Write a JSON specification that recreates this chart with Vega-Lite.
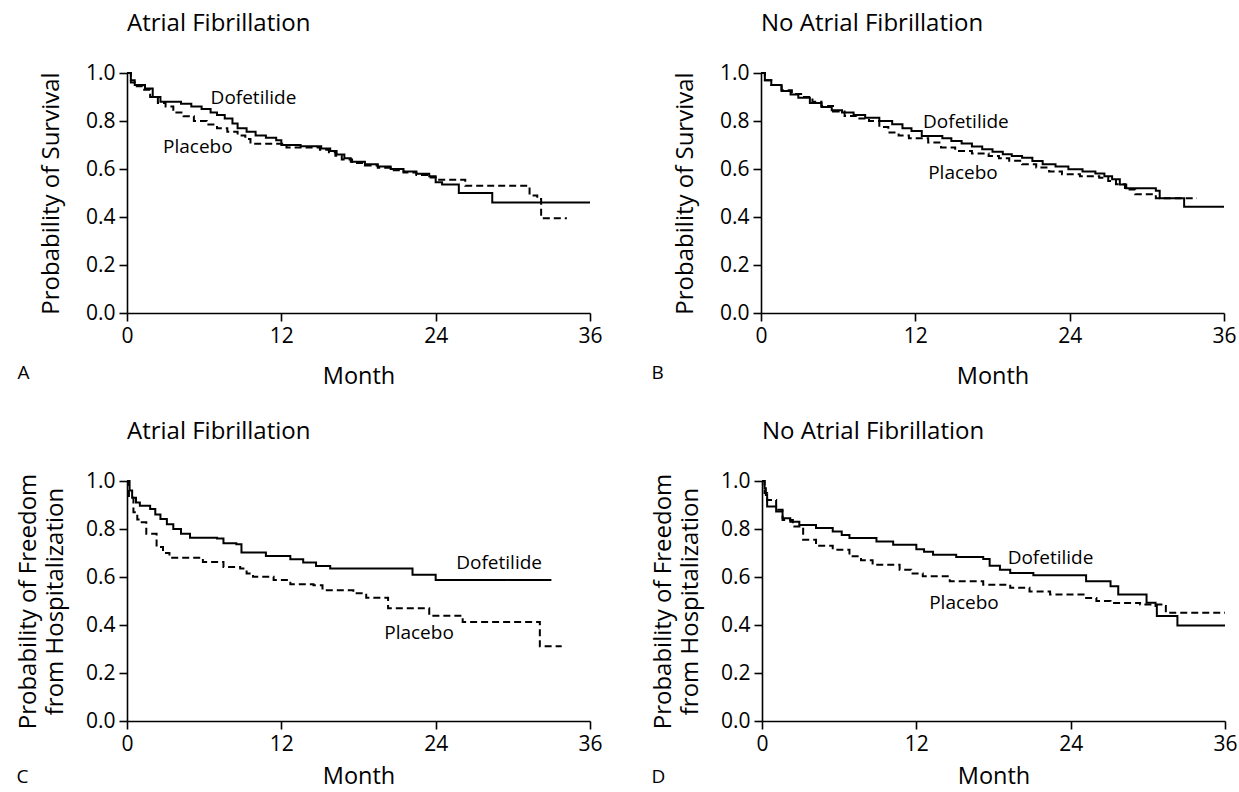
{
  "$schema": "https://vega.github.io/schema/vega-lite/v6.json",
  "padding": {"left": 16, "top": 12, "right": 0, "bottom": 0},
  "background": "white",
  "config": {
    "font": "Open Sans",
    "view": {"stroke": null},
    "axis": {"domainColor": "black", "domainWidth": 1.6, "tickColor": "black", "tickWidth": 1.6, "tickSize": 8, "labelFontSize": 21, "labelColor": "black", "titleFontSize": 24, "titleFontWeight": "normal", "titleColor": "black", "grid": false, "labelPadding": 4, "labelOverlap": false},
    "title": {"fontWeight": "normal", "color": "black", "fontSize": 24}
  },
  "datasets": {
    "km": [
      {"panel":"A","group":"Dofetilide","month":0,"value":1.0},{"panel":"A","group":"Dofetilide","month":0.3,"value":0.97},{"panel":"A","group":"Dofetilide","month":0.6,"value":0.95},{"panel":"A","group":"Dofetilide","month":1.4,"value":0.935},{"panel":"A","group":"Dofetilide","month":2.0,"value":0.9},{"panel":"A","group":"Dofetilide","month":2.6,"value":0.88},{"panel":"A","group":"Dofetilide","month":4.2,"value":0.872},{"panel":"A","group":"Dofetilide","month":5.0,"value":0.86},{"panel":"A","group":"Dofetilide","month":5.8,"value":0.85},{"panel":"A","group":"Dofetilide","month":6.5,"value":0.835},{"panel":"A","group":"Dofetilide","month":7.0,"value":0.825},{"panel":"A","group":"Dofetilide","month":7.6,"value":0.81},{"panel":"A","group":"Dofetilide","month":8.2,"value":0.79},{"panel":"A","group":"Dofetilide","month":8.6,"value":0.77},{"panel":"A","group":"Dofetilide","month":9.3,"value":0.755},{"panel":"A","group":"Dofetilide","month":10.0,"value":0.74},{"panel":"A","group":"Dofetilide","month":10.8,"value":0.73},{"panel":"A","group":"Dofetilide","month":11.6,"value":0.72},{"panel":"A","group":"Dofetilide","month":12.0,"value":0.7},{"panel":"A","group":"Dofetilide","month":13.5,"value":0.695},{"panel":"A","group":"Dofetilide","month":15.1,"value":0.685},{"panel":"A","group":"Dofetilide","month":15.8,"value":0.675},{"panel":"A","group":"Dofetilide","month":16.3,"value":0.66},{"panel":"A","group":"Dofetilide","month":16.9,"value":0.645},{"panel":"A","group":"Dofetilide","month":17.4,"value":0.63},{"panel":"A","group":"Dofetilide","month":18.5,"value":0.62},{"panel":"A","group":"Dofetilide","month":19.5,"value":0.61},{"panel":"A","group":"Dofetilide","month":20.5,"value":0.6},{"panel":"A","group":"Dofetilide","month":21.5,"value":0.59},{"panel":"A","group":"Dofetilide","month":22.5,"value":0.58},{"panel":"A","group":"Dofetilide","month":23.5,"value":0.57},{"panel":"A","group":"Dofetilide","month":24.0,"value":0.545},{"panel":"A","group":"Dofetilide","month":24.5,"value":0.535},{"panel":"A","group":"Dofetilide","month":25.8,"value":0.5},{"panel":"A","group":"Dofetilide","month":28.4,"value":0.46},{"panel":"A","group":"Dofetilide","month":36,"value":0.46},
      {"panel":"A","group":"Placebo","month":0,"value":1.0},{"panel":"A","group":"Placebo","month":0.3,"value":0.96},{"panel":"A","group":"Placebo","month":0.6,"value":0.945},{"panel":"A","group":"Placebo","month":1.2,"value":0.93},{"panel":"A","group":"Placebo","month":1.8,"value":0.9},{"panel":"A","group":"Placebo","month":2.4,"value":0.875},{"panel":"A","group":"Placebo","month":3.0,"value":0.86},{"panel":"A","group":"Placebo","month":3.6,"value":0.835},{"panel":"A","group":"Placebo","month":4.4,"value":0.82},{"panel":"A","group":"Placebo","month":5.2,"value":0.8},{"panel":"A","group":"Placebo","month":6.2,"value":0.785},{"panel":"A","group":"Placebo","month":7.0,"value":0.77},{"panel":"A","group":"Placebo","month":7.8,"value":0.755},{"panel":"A","group":"Placebo","month":8.6,"value":0.74},{"panel":"A","group":"Placebo","month":9.2,"value":0.725},{"panel":"A","group":"Placebo","month":9.6,"value":0.705},{"panel":"A","group":"Placebo","month":12.4,"value":0.69},{"panel":"A","group":"Placebo","month":15.0,"value":0.68},{"panel":"A","group":"Placebo","month":15.7,"value":0.67},{"panel":"A","group":"Placebo","month":16.2,"value":0.655},{"panel":"A","group":"Placebo","month":16.7,"value":0.64},{"panel":"A","group":"Placebo","month":17.5,"value":0.625},{"panel":"A","group":"Placebo","month":18.5,"value":0.615},{"panel":"A","group":"Placebo","month":19.5,"value":0.605},{"panel":"A","group":"Placebo","month":20.5,"value":0.595},{"panel":"A","group":"Placebo","month":21.5,"value":0.585},{"panel":"A","group":"Placebo","month":22.5,"value":0.575},{"panel":"A","group":"Placebo","month":23.5,"value":0.565},{"panel":"A","group":"Placebo","month":24.0,"value":0.555},{"panel":"A","group":"Placebo","month":26.3,"value":0.53},{"panel":"A","group":"Placebo","month":31.3,"value":0.49},{"panel":"A","group":"Placebo","month":31.9,"value":0.475},{"panel":"A","group":"Placebo","month":32.2,"value":0.395},{"panel":"A","group":"Placebo","month":34.2,"value":0.395},
      {"panel":"B","group":"Dofetilide","month":0,"value":1.0},{"panel":"B","group":"Dofetilide","month":0.3,"value":0.97},{"panel":"B","group":"Dofetilide","month":0.8,"value":0.95},{"panel":"B","group":"Dofetilide","month":1.6,"value":0.925},{"panel":"B","group":"Dofetilide","month":2.3,"value":0.91},{"panel":"B","group":"Dofetilide","month":2.9,"value":0.897},{"panel":"B","group":"Dofetilide","month":3.8,"value":0.875},{"panel":"B","group":"Dofetilide","month":4.7,"value":0.858},{"panel":"B","group":"Dofetilide","month":5.5,"value":0.845},{"panel":"B","group":"Dofetilide","month":6.3,"value":0.835},{"panel":"B","group":"Dofetilide","month":7.2,"value":0.825},{"panel":"B","group":"Dofetilide","month":8.1,"value":0.814},{"panel":"B","group":"Dofetilide","month":9.2,"value":0.8},{"panel":"B","group":"Dofetilide","month":10.2,"value":0.786},{"panel":"B","group":"Dofetilide","month":11.0,"value":0.77},{"panel":"B","group":"Dofetilide","month":11.7,"value":0.758},{"panel":"B","group":"Dofetilide","month":12.5,"value":0.738},{"panel":"B","group":"Dofetilide","month":14.1,"value":0.728},{"panel":"B","group":"Dofetilide","month":14.8,"value":0.717},{"panel":"B","group":"Dofetilide","month":15.6,"value":0.706},{"panel":"B","group":"Dofetilide","month":16.4,"value":0.694},{"panel":"B","group":"Dofetilide","month":17.2,"value":0.682},{"panel":"B","group":"Dofetilide","month":18.0,"value":0.672},{"panel":"B","group":"Dofetilide","month":18.8,"value":0.661},{"panel":"B","group":"Dofetilide","month":19.5,"value":0.654},{"panel":"B","group":"Dofetilide","month":20.3,"value":0.647},{"panel":"B","group":"Dofetilide","month":21.1,"value":0.633},{"panel":"B","group":"Dofetilide","month":21.9,"value":0.62},{"panel":"B","group":"Dofetilide","month":22.9,"value":0.61},{"panel":"B","group":"Dofetilide","month":23.9,"value":0.599},{"panel":"B","group":"Dofetilide","month":25.0,"value":0.59},{"panel":"B","group":"Dofetilide","month":26.0,"value":0.581},{"panel":"B","group":"Dofetilide","month":26.7,"value":0.57},{"panel":"B","group":"Dofetilide","month":27.3,"value":0.557},{"panel":"B","group":"Dofetilide","month":27.9,"value":0.535},{"panel":"B","group":"Dofetilide","month":28.4,"value":0.52},{"panel":"B","group":"Dofetilide","month":30.7,"value":0.509},{"panel":"B","group":"Dofetilide","month":31.0,"value":0.478},{"panel":"B","group":"Dofetilide","month":32.9,"value":0.443},{"panel":"B","group":"Dofetilide","month":36,"value":0.443},
      {"panel":"B","group":"Placebo","month":0,"value":1.0},{"panel":"B","group":"Placebo","month":0.3,"value":0.97},{"panel":"B","group":"Placebo","month":0.8,"value":0.95},{"panel":"B","group":"Placebo","month":1.6,"value":0.928},{"panel":"B","group":"Placebo","month":2.4,"value":0.913},{"panel":"B","group":"Placebo","month":3.2,"value":0.9},{"panel":"B","group":"Placebo","month":4.0,"value":0.88},{"panel":"B","group":"Placebo","month":4.7,"value":0.863},{"panel":"B","group":"Placebo","month":5.6,"value":0.84},{"panel":"B","group":"Placebo","month":6.5,"value":0.821},{"panel":"B","group":"Placebo","month":7.4,"value":0.81},{"panel":"B","group":"Placebo","month":8.4,"value":0.8},{"panel":"B","group":"Placebo","month":9.2,"value":0.775},{"panel":"B","group":"Placebo","month":9.9,"value":0.752},{"panel":"B","group":"Placebo","month":10.7,"value":0.74},{"panel":"B","group":"Placebo","month":11.5,"value":0.728},{"panel":"B","group":"Placebo","month":13.0,"value":0.71},{"panel":"B","group":"Placebo","month":14.0,"value":0.69},{"panel":"B","group":"Placebo","month":15.1,"value":0.675},{"panel":"B","group":"Placebo","month":16.4,"value":0.665},{"panel":"B","group":"Placebo","month":17.7,"value":0.654},{"panel":"B","group":"Placebo","month":18.5,"value":0.645},{"panel":"B","group":"Placebo","month":19.3,"value":0.634},{"panel":"B","group":"Placebo","month":20.3,"value":0.62},{"panel":"B","group":"Placebo","month":21.4,"value":0.606},{"panel":"B","group":"Placebo","month":22.4,"value":0.59},{"panel":"B","group":"Placebo","month":23.4,"value":0.578},{"panel":"B","group":"Placebo","month":24.8,"value":0.57},{"panel":"B","group":"Placebo","month":26.3,"value":0.564},{"panel":"B","group":"Placebo","month":27.0,"value":0.55},{"panel":"B","group":"Placebo","month":27.6,"value":0.536},{"panel":"B","group":"Placebo","month":28.3,"value":0.515},{"panel":"B","group":"Placebo","month":29.1,"value":0.495},{"panel":"B","group":"Placebo","month":30.7,"value":0.478},{"panel":"B","group":"Placebo","month":33.9,"value":0.478},
      {"panel":"C","group":"Dofetilide","month":0,"value":1.0},{"panel":"C","group":"Dofetilide","month":0.2,"value":0.96},{"panel":"C","group":"Dofetilide","month":0.4,"value":0.93},{"panel":"C","group":"Dofetilide","month":0.7,"value":0.91},{"panel":"C","group":"Dofetilide","month":1.0,"value":0.897},{"panel":"C","group":"Dofetilide","month":1.8,"value":0.883},{"panel":"C","group":"Dofetilide","month":2.2,"value":0.86},{"panel":"C","group":"Dofetilide","month":2.6,"value":0.842},{"panel":"C","group":"Dofetilide","month":3.1,"value":0.82},{"panel":"C","group":"Dofetilide","month":3.6,"value":0.8},{"panel":"C","group":"Dofetilide","month":4.2,"value":0.78},{"panel":"C","group":"Dofetilide","month":4.9,"value":0.764},{"panel":"C","group":"Dofetilide","month":7.0,"value":0.76},{"panel":"C","group":"Dofetilide","month":7.5,"value":0.741},{"panel":"C","group":"Dofetilide","month":8.5,"value":0.736},{"panel":"C","group":"Dofetilide","month":8.9,"value":0.702},{"panel":"C","group":"Dofetilide","month":10.8,"value":0.688},{"panel":"C","group":"Dofetilide","month":12.7,"value":0.674},{"panel":"C","group":"Dofetilide","month":13.7,"value":0.66},{"panel":"C","group":"Dofetilide","month":14.7,"value":0.646},{"panel":"C","group":"Dofetilide","month":15.8,"value":0.635},{"panel":"C","group":"Dofetilide","month":22.2,"value":0.609},{"panel":"C","group":"Dofetilide","month":24.0,"value":0.587},{"panel":"C","group":"Dofetilide","month":33.0,"value":0.587},
      {"panel":"C","group":"Placebo","month":0,"value":1.0},{"panel":"C","group":"Placebo","month":0.15,"value":0.93},{"panel":"C","group":"Placebo","month":0.5,"value":0.87},{"panel":"C","group":"Placebo","month":0.8,"value":0.84},{"panel":"C","group":"Placebo","month":1.0,"value":0.828},{"panel":"C","group":"Placebo","month":1.5,"value":0.78},{"panel":"C","group":"Placebo","month":2.3,"value":0.725},{"panel":"C","group":"Placebo","month":2.8,"value":0.7},{"panel":"C","group":"Placebo","month":3.3,"value":0.68},{"panel":"C","group":"Placebo","month":5.9,"value":0.663},{"panel":"C","group":"Placebo","month":7.5,"value":0.642},{"panel":"C","group":"Placebo","month":8.8,"value":0.635},{"panel":"C","group":"Placebo","month":9.3,"value":0.615},{"panel":"C","group":"Placebo","month":9.8,"value":0.601},{"panel":"C","group":"Placebo","month":11.4,"value":0.587},{"panel":"C","group":"Placebo","month":12.7,"value":0.57},{"panel":"C","group":"Placebo","month":14.5,"value":0.566},{"panel":"C","group":"Placebo","month":15.2,"value":0.545},{"panel":"C","group":"Placebo","month":17.6,"value":0.532},{"panel":"C","group":"Placebo","month":18.6,"value":0.514},{"panel":"C","group":"Placebo","month":20.3,"value":0.47},{"panel":"C","group":"Placebo","month":23.5,"value":0.439},{"panel":"C","group":"Placebo","month":26.1,"value":0.413},{"panel":"C","group":"Placebo","month":32.1,"value":0.311},{"panel":"C","group":"Placebo","month":33.8,"value":0.311},
      {"panel":"D","group":"Dofetilide","month":0,"value":1.0},{"panel":"D","group":"Dofetilide","month":0.2,"value":0.97},{"panel":"D","group":"Dofetilide","month":0.3,"value":0.942},{"panel":"D","group":"Dofetilide","month":0.4,"value":0.894},{"panel":"D","group":"Dofetilide","month":1.1,"value":0.873},{"panel":"D","group":"Dofetilide","month":1.6,"value":0.845},{"panel":"D","group":"Dofetilide","month":2.2,"value":0.83},{"panel":"D","group":"Dofetilide","month":2.9,"value":0.817},{"panel":"D","group":"Dofetilide","month":4.2,"value":0.804},{"panel":"D","group":"Dofetilide","month":5.5,"value":0.79},{"panel":"D","group":"Dofetilide","month":6.2,"value":0.775},{"panel":"D","group":"Dofetilide","month":6.8,"value":0.762},{"panel":"D","group":"Dofetilide","month":8.9,"value":0.748},{"panel":"D","group":"Dofetilide","month":10.2,"value":0.734},{"panel":"D","group":"Dofetilide","month":12.0,"value":0.716},{"panel":"D","group":"Dofetilide","month":12.6,"value":0.705},{"panel":"D","group":"Dofetilide","month":13.3,"value":0.693},{"panel":"D","group":"Dofetilide","month":15.1,"value":0.683},{"panel":"D","group":"Dofetilide","month":17.2,"value":0.675},{"panel":"D","group":"Dofetilide","month":17.7,"value":0.647},{"panel":"D","group":"Dofetilide","month":18.5,"value":0.63},{"panel":"D","group":"Dofetilide","month":19.3,"value":0.617},{"panel":"D","group":"Dofetilide","month":21.1,"value":0.607},{"panel":"D","group":"Dofetilide","month":25.2,"value":0.582},{"panel":"D","group":"Dofetilide","month":27.1,"value":0.561},{"panel":"D","group":"Dofetilide","month":27.7,"value":0.527},{"panel":"D","group":"Dofetilide","month":29.9,"value":0.493},{"panel":"D","group":"Dofetilide","month":30.6,"value":0.479},{"panel":"D","group":"Dofetilide","month":30.7,"value":0.437},{"panel":"D","group":"Dofetilide","month":32.3,"value":0.398},{"panel":"D","group":"Dofetilide","month":36,"value":0.398},
      {"panel":"D","group":"Placebo","month":0,"value":1.0},{"panel":"D","group":"Placebo","month":0.2,"value":0.95},{"panel":"D","group":"Placebo","month":0.4,"value":0.921},{"panel":"D","group":"Placebo","month":1.1,"value":0.88},{"panel":"D","group":"Placebo","month":1.6,"value":0.838},{"panel":"D","group":"Placebo","month":2.4,"value":0.81},{"panel":"D","group":"Placebo","month":3.2,"value":0.755},{"panel":"D","group":"Placebo","month":4.2,"value":0.73},{"panel":"D","group":"Placebo","month":5.5,"value":0.714},{"panel":"D","group":"Placebo","month":6.8,"value":0.686},{"panel":"D","group":"Placebo","month":7.7,"value":0.67},{"panel":"D","group":"Placebo","month":8.6,"value":0.651},{"panel":"D","group":"Placebo","month":10.7,"value":0.63},{"panel":"D","group":"Placebo","month":11.6,"value":0.615},{"panel":"D","group":"Placebo","month":12.5,"value":0.603},{"panel":"D","group":"Placebo","month":14.6,"value":0.582},{"panel":"D","group":"Placebo","month":17.2,"value":0.568},{"panel":"D","group":"Placebo","month":19.3,"value":0.555},{"panel":"D","group":"Placebo","month":20.8,"value":0.54},{"panel":"D","group":"Placebo","month":22.4,"value":0.527},{"panel":"D","group":"Placebo","month":25.0,"value":0.513},{"panel":"D","group":"Placebo","month":26.0,"value":0.5},{"panel":"D","group":"Placebo","month":27.1,"value":0.492},{"panel":"D","group":"Placebo","month":29.4,"value":0.485},{"panel":"D","group":"Placebo","month":31.2,"value":0.479},{"panel":"D","group":"Placebo","month":31.4,"value":0.451},{"panel":"D","group":"Placebo","month":36,"value":0.451}
    ],
    "labels": [
      {"panel":"A","text":"Dofetilide","month":6.5,"value":0.895},{"panel":"A","text":"Placebo","month":2.8,"value":0.69},
      {"panel":"B","text":"Dofetilide","month":12.6,"value":0.797},{"panel":"B","text":"Placebo","month":13.0,"value":0.585},
      {"panel":"C","text":"Dofetilide","month":25.6,"value":0.657},{"panel":"C","text":"Placebo","month":20.0,"value":0.368},
      {"panel":"D","text":"Dofetilide","month":19.1,"value":0.68},{"panel":"D","text":"Placebo","month":13.0,"value":0.493}
    ]
  },
  "spacing": 32,
  "vconcat": [
    {
      "hconcat": [
        {
          "title": {"text": "A", "orient": "bottom", "anchor": "start", "frame": "bounds", "fontSize": 19, "dx": -22, "dy": -28},
          "vconcat": [
            {
              "width": 463, "height": 240,
              "title": {"text": "Atrial Fibrillation", "anchor": "start", "frame": "group", "offset": 26},
              "layer": [
                {"data": {"name": "km"}, "transform": [{"filter": "datum.panel == 'A'"}],
                 "mark": {"type": "line", "interpolate": "step-after", "strokeWidth": 2, "color": "black"},
                 "encoding": {
                   "x": {"field": "month", "type": "quantitative", "scale": {"domain": [0, 36], "nice": false}, "axis": {"values": [0, 12, 24, 36], "title": "Month", "titlePadding": 18, "titleFontSize": 23.5, "labelFlush": false}},
                   "y": {"field": "value", "type": "quantitative", "scale": {"domain": [0, 1], "nice": false}, "axis": {"values": [0,0.1,0.2,0.3,0.4,0.5,0.6,0.7,0.8,0.9,1.0], "labelExpr": "round(datum.value*10) % 2 == 0 ? format(datum.value, '.1f') : ''", "title": "Probability of Survival", "titlePadding": 22}},
                   "strokeDash": {"field": "group", "type": "nominal", "scale": {"domain": ["Dofetilide", "Placebo"], "range": [[1, 0], [7, 4]]}, "legend": null}
                 }},
                {"data": {"name": "labels"}, "transform": [{"filter": "datum.panel == 'A'"}],
                 "mark": {"type": "text", "align": "left", "baseline": "middle", "fontSize": 19, "color": "black"},
                 "encoding": {"x": {"field": "month", "type": "quantitative"}, "y": {"field": "value", "type": "quantitative"}, "text": {"field": "text"}}}
              ]
            }
          ]
        },
        {
          "title": {"text": "B", "orient": "bottom", "anchor": "start", "frame": "bounds", "fontSize": 19, "dx": -22, "dy": -28},
          "vconcat": [
            {
              "width": 463, "height": 240,
              "title": {"text": "No Atrial Fibrillation", "anchor": "start", "frame": "group", "offset": 26},
              "layer": [
                {"data": {"name": "km"}, "transform": [{"filter": "datum.panel == 'B'"}],
                 "mark": {"type": "line", "interpolate": "step-after", "strokeWidth": 2, "color": "black"},
                 "encoding": {
                   "x": {"field": "month", "type": "quantitative", "scale": {"domain": [0, 36], "nice": false}, "axis": {"values": [0, 12, 24, 36], "title": "Month", "titlePadding": 18, "titleFontSize": 23.5, "labelFlush": false}},
                   "y": {"field": "value", "type": "quantitative", "scale": {"domain": [0, 1], "nice": false}, "axis": {"values": [0,0.1,0.2,0.3,0.4,0.5,0.6,0.7,0.8,0.9,1.0], "labelExpr": "round(datum.value*10) % 2 == 0 ? format(datum.value, '.1f') : ''", "title": "Probability of Survival", "titlePadding": 22}},
                   "strokeDash": {"field": "group", "type": "nominal", "scale": {"domain": ["Dofetilide", "Placebo"], "range": [[1, 0], [7, 4]]}, "legend": null}
                 }},
                {"data": {"name": "labels"}, "transform": [{"filter": "datum.panel == 'B'"}],
                 "mark": {"type": "text", "align": "left", "baseline": "middle", "fontSize": 19, "color": "black"},
                 "encoding": {"x": {"field": "month", "type": "quantitative"}, "y": {"field": "value", "type": "quantitative"}, "text": {"field": "text"}}}
              ]
            }
          ]
        }
      ],
      "spacing": 48
    },
    {
      "hconcat": [
        {
          "title": {"text": "C", "orient": "bottom", "anchor": "start", "frame": "bounds", "fontSize": 19, "dx": 0, "dy": -24},
          "vconcat": [
            {
              "width": 463, "height": 240,
              "title": {"text": "Atrial Fibrillation", "anchor": "start", "frame": "group", "offset": 26},
              "layer": [
                {"data": {"name": "km"}, "transform": [{"filter": "datum.panel == 'C'"}],
                 "mark": {"type": "line", "interpolate": "step-after", "strokeWidth": 2, "color": "black"},
                 "encoding": {
                   "x": {"field": "month", "type": "quantitative", "scale": {"domain": [0, 36], "nice": false}, "axis": {"values": [0, 12, 24, 36], "title": "Month", "titlePadding": 10, "titleFontSize": 23.5, "labelFlush": false}},
                   "y": {"field": "value", "type": "quantitative", "scale": {"domain": [0, 1], "nice": false}, "axis": {"values": [0,0.1,0.2,0.3,0.4,0.5,0.6,0.7,0.8,0.9,1.0], "labelExpr": "round(datum.value*10) % 2 == 0 ? format(datum.value, '.1f') : ''", "title": ["Probability of Freedom", "from Hospitalization"], "titleLineHeight": 27, "titlePadding": 18}},
                   "strokeDash": {"field": "group", "type": "nominal", "scale": {"domain": ["Dofetilide", "Placebo"], "range": [[1, 0], [7, 4]]}, "legend": null}
                 }},
                {"data": {"name": "labels"}, "transform": [{"filter": "datum.panel == 'C'"}],
                 "mark": {"type": "text", "align": "left", "baseline": "middle", "fontSize": 19, "color": "black"},
                 "encoding": {"x": {"field": "month", "type": "quantitative"}, "y": {"field": "value", "type": "quantitative"}, "text": {"field": "text"}}}
              ]
            }
          ]
        },
        {
          "title": {"text": "D", "orient": "bottom", "anchor": "start", "frame": "bounds", "fontSize": 19, "dx": 0, "dy": -24},
          "vconcat": [
            {
              "width": 463, "height": 240,
              "title": {"text": "No Atrial Fibrillation", "anchor": "start", "frame": "group", "offset": 26},
              "layer": [
                {"data": {"name": "km"}, "transform": [{"filter": "datum.panel == 'D'"}],
                 "mark": {"type": "line", "interpolate": "step-after", "strokeWidth": 2, "color": "black"},
                 "encoding": {
                   "x": {"field": "month", "type": "quantitative", "scale": {"domain": [0, 36], "nice": false}, "axis": {"values": [0, 12, 24, 36], "title": "Month", "titlePadding": 10, "titleFontSize": 23.5, "labelFlush": false}},
                   "y": {"field": "value", "type": "quantitative", "scale": {"domain": [0, 1], "nice": false}, "axis": {"values": [0,0.1,0.2,0.3,0.4,0.5,0.6,0.7,0.8,0.9,1.0], "labelExpr": "round(datum.value*10) % 2 == 0 ? format(datum.value, '.1f') : ''", "title": ["Probability of Freedom", "from Hospitalization"], "titleLineHeight": 27, "titlePadding": 18}},
                   "strokeDash": {"field": "group", "type": "nominal", "scale": {"domain": ["Dofetilide", "Placebo"], "range": [[1, 0], [7, 4]]}, "legend": null}
                 }},
                {"data": {"name": "labels"}, "transform": [{"filter": "datum.panel == 'D'"}],
                 "mark": {"type": "text", "align": "left", "baseline": "middle", "fontSize": 19, "color": "black"},
                 "encoding": {"x": {"field": "month", "type": "quantitative"}, "y": {"field": "value", "type": "quantitative"}, "text": {"field": "text"}}}
              ]
            }
          ]
        }
      ],
      "spacing": 48
    }
  ]
}
